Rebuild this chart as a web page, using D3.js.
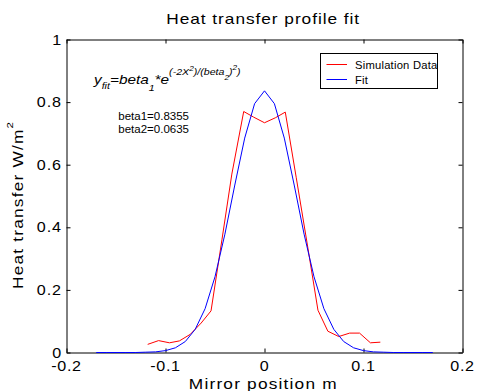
<!DOCTYPE html>
<html>
<head>
<meta charset="utf-8">
<script src="https://cdn.jsdelivr.net/npm/d3@7"></script>
<style>
  body { margin: 0; background: #fff; }
  svg { display: block; font-family: "Liberation Sans", Arial, sans-serif; }
</style>
</head>
<body>
<div id="chart"></div>
<script>
// simulation data (red)
const simX = [-0.118, -0.107, -0.096, -0.086, -0.075, -0.064, -0.054, -0.043, -0.033, -0.021, -0.011, 0,
              0.011, 0.021, 0.032, 0.043, 0.054, 0.064, 0.075, 0.086, 0.096, 0.107, 0.117];
const simY = [0.026, 0.038, 0.031, 0.037, 0.058, 0.094, 0.133, 0.36, 0.57, 0.77, 0.752, 0.734,
              0.75, 0.768, 0.56, 0.35, 0.135, 0.068, 0.051, 0.062, 0.062, 0.031, 0.033];

// fitted gaussian (blue)
const fitX = [-0.17, -0.16, -0.15, -0.14, -0.13, -0.12, -0.11, -0.10, -0.09, -0.08, -0.07, -0.06,
              -0.05, -0.04, -0.03, -0.02, -0.01, 0, 0.01, 0.02, 0.03, 0.04, 0.05, 0.06,
              0.07, 0.08, 0.09, 0.10, 0.11, 0.12, 0.13, 0.14, 0.15, 0.16, 0.17];
const fitY = [0, 0, 0, 0, 0, 0.001, 0.002, 0.006, 0.015, 0.035, 0.074, 0.14,
              0.242, 0.378, 0.535, 0.685, 0.795, 0.836, 0.795, 0.685, 0.535, 0.378, 0.242, 0.14,
              0.074, 0.035, 0.015, 0.006, 0.002, 0.001, 0, 0, 0, 0, 0];

const xTicks = [-0.2, -0.1, 0, 0.1, 0.2];
const yTicks = [0, 0.2, 0.4, 0.6, 0.8, 1];
const seriesNames = ["Simulation Data", "Fit"];
const seriesColors = ["#ff0000", "#0000ff"];

const width = 480, height = 391;
const x = d3.scaleLinear().domain([-0.2, 0.2]).range([66.5, 462.5]);
const y = d3.scaleLinear().domain([0, 1]).range([352.5, 39.5]);

const svg = d3.select("#chart").append("svg")
    .attr("width", width)
    .attr("height", height);

// text widened along its own direction (the source font renders wide)
function label(g, tx, ty, str, size, sx, anchor, rot, ls) {
    return g.append("text")
        .attr("transform", `translate(${tx},${ty}) rotate(${rot || 0}) scale(${sx},1)`)
        .attr("text-anchor", anchor || "start")
        .style("font-size", size + "px")
        .style("letter-spacing", (ls || 0) + "px")
        .text(str);
}

// axes: ticks point inward on all four sides
function styleAxis(g) {
    g.select(".domain").attr("stroke", "#000");
    g.selectAll(".tick line").attr("stroke", "#000");
}

svg.append("g")
    .attr("transform", `translate(0,${y(0)})`)
    .call(d3.axisBottom(x).tickValues(xTicks).tickSize(-4).tickSizeOuter(0).tickFormat(""))
    .call(styleAxis);
svg.append("g")
    .attr("transform", `translate(0,${y(1)})`)
    .call(d3.axisTop(x).tickValues(xTicks).tickSize(-4).tickSizeOuter(0).tickFormat(""))
    .call(styleAxis);
svg.append("g")
    .attr("transform", `translate(${x(-0.2)},0)`)
    .call(d3.axisLeft(y).tickValues(yTicks).tickSize(-4).tickSizeOuter(0).tickFormat(""))
    .call(styleAxis);
svg.append("g")
    .attr("transform", `translate(${x(0.2)},0)`)
    .call(d3.axisRight(y).tickValues(yTicks).tickSize(-4).tickSizeOuter(0).tickFormat(""))
    .call(styleAxis);

// tick labels
xTicks.forEach(t => label(svg, x(t), 370.7, String(t), 14, 1.15, "middle", 0, 0.6));
yTicks.forEach(t => label(svg, 62, y(t) + 5, String(t), 14, 1.15, "end", 0, 0.8));

// lines
const line = d3.line().x(d => x(d[0])).y(d => y(d[1]));
svg.append("path")
    .datum(simX.map((v, i) => [v, simY[i]]))
    .attr("d", line)
    .attr("fill", "none")
    .attr("stroke", seriesColors[0])
    .attr("stroke-width", 1);
svg.append("path")
    .datum(fitX.map((v, i) => [v, fitY[i]]))
    .attr("d", line)
    .attr("fill", "none")
    .attr("stroke", seriesColors[1])
    .attr("stroke-width", 1);

// title and axis labels
label(svg, 263.2, 24.4, "Heat transfer profile fit", 14.4, 1.2, "middle", 0, 0.8);
label(svg, 263.3, 388.6, "Mirror position m", 14.4, 1.2, "middle", 0, 1.0);
const yl = label(svg, 22.7, 205, "Heat transfer W/m", 14.4, 1.2, "middle", -90, 1.0);
yl.append("tspan").attr("dy", -10).style("font-size", "9.5px").text("2");

// fit formula
const eq = svg.append("text")
    .attr("transform", "translate(94,83.5) scale(1.18,1)")
    .style("font-style", "italic")
    .style("font-size", "13px");
const parts = [
    ["y", 13, 0], ["fit", 9, 5.5], ["=beta", 13, -5.5], ["1", 9, 7.5], ["*e", 13, -7.5],
    ["(-2X", 9, -9], ["2", 7, -4], [")/(beta", 9, 4], ["2", 7, 5], [")", 9, -5], ["2", 7, -5], [")", 9, 5]
];
parts.forEach(p => eq.append("tspan").attr("dy", p[2]).style("font-size", p[1] + "px").text(p[0]));

label(svg, 118.3, 120.2, "beta1=0.8355", 11.5, 1.0, "start");
label(svg, 118.3, 132.9, "beta2=0.0635", 11.5, 1.0, "start");

// legend
const lg = svg.append("g");
lg.append("rect")
    .attr("x", 320.5).attr("y", 53.5)
    .attr("width", 117).attr("height", 35)
    .attr("fill", "#fff").attr("stroke", "#000");
seriesNames.forEach((name, i) => {
    const ly = 64.5 + i * 15;
    lg.append("line")
        .attr("x1", 326.5).attr("x2", 347)
        .attr("y1", ly).attr("y2", ly)
        .attr("stroke", seriesColors[i]);
    label(lg, 355, ly + 4, name, 10.7, 1.05, "start", 0, 0.2);
});
</script>
</body>
</html>
